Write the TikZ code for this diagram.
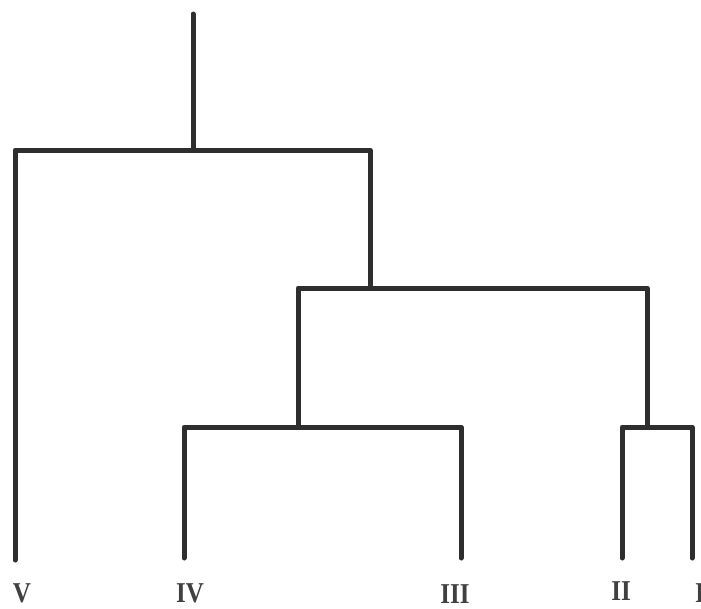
\documentclass[tikz,border=0pt]{standalone}
\usepackage{fontspec}
\setmainfont{Liberation Serif}
\begin{document}
\begin{tikzpicture}[x=1pt,y=-1pt,
  branch/.style={draw=black!82,line width=5pt,line cap=round,line join=round},
  leaflabel/.style={inner sep=0pt,anchor=north,text depth=0pt,font=\fontsize{25}{25}\selectfont\bfseries,text=black!75}]
\useasboundingbox (0,0) rectangle (701,608);
% internal nodes (bracket junctions)
\coordinate (top) at (193,14);
\coordinate (n1) at (193,150);
\coordinate (n2) at (370,288);
\coordinate (n3) at (298,427);
\coordinate (n4) at (647,427);
% leaves
\coordinate (V) at (15,560);
\coordinate (IV) at (184,558);
\coordinate (III) at (461,558);
\coordinate (II) at (622,558);
\coordinate (I) at (692,558);
% branches
\draw[branch] (top) -- (n1);
\draw[branch] (n1) -| (V);
\draw[branch] (n1) -| (n2);
\draw[branch] (n2) -| (n3);
\draw[branch] (n2) -| (n4);
\draw[branch] (n3) -| (IV);
\draw[branch] (n3) -| (III);
\draw[branch] (n4) -| (II);
\draw[branch] (n4) -| (I);
% labels
\node[leaflabel] (lV) at (22,583) {\scalebox{1}[1.15]{V}};
\node[leaflabel] (lIV) at (190,583) {\scalebox{1}[1.15]{IV}};
\node[leaflabel] (lIII) at (455,584) {\scalebox{1}[1.15]{III}};
\node[leaflabel] (lII) at (621,581) {\scalebox{1}[1.15]{II}};
\node[leaflabel] (lI) at (700,583) {\scalebox{1}[1.15]{I}};
\end{tikzpicture}
\end{document}
